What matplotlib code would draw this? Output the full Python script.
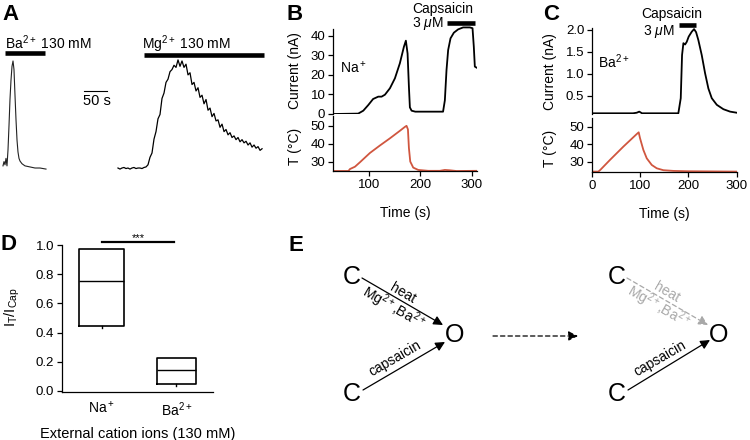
import numpy as np
import matplotlib
matplotlib.use('Agg')
import matplotlib.pyplot as plt

plt.rcParams['font.family'] = ['Liberation Sans', 'DejaVu Sans']
plt.rcParams['mathtext.fontset'] = 'custom'
plt.rcParams['mathtext.rm'] = 'Liberation Sans'
plt.rcParams['mathtext.it'] = 'Liberation Sans:italic'
plt.rcParams['mathtext.bf'] = 'Liberation Sans:bold'

# ---------------- data ----------------
# Panel A (time in s, current normalised to peak)
ba_t = [6.5, 8.7, 10.9, 13.0, 15.2, 17.4, 19.6, 21.7, 23.9, 26.1, 28.3, 30.4, 32.6,
        34.8, 37.0, 39.1, 41.3, 43.5, 47.8, 54.3, 65.2, 76.1, 87.0, 100.0]
ba_i = [0.02, 0.06, 0.03, 0.09, 0.02, 0.17, 0.40, 0.64, 0.82, 0.95, 1.0, 0.92, 0.68,
        0.45, 0.26, 0.15, 0.09, 0.065, 0.04, 0.02, 0.01, 0.0, 0.0, -0.01]
mg_i = [0.0, -0.01, 0.0, 0.005, -0.005, 0.0, -0.01, 0.0, 0.005, -0.005, 0.0, 0.0, -0.005, 0.005, 0.01,
        0.03, 0.10, 0.14, 0.27, 0.34, 0.46, 0.50, 0.65, 0.70, 0.80, 0.83, 0.90, 0.92, 0.96,
        0.94, 1.01, 0.95, 1.0, 0.94, 0.97, 0.87, 0.89, 0.78, 0.80, 0.72, 0.75, 0.66, 0.68,
        0.60, 0.64, 0.54, 0.56, 0.48, 0.51, 0.44, 0.45, 0.38, 0.41, 0.34, 0.36, 0.31, 0.33,
        0.285, 0.30, 0.265, 0.285, 0.245, 0.265, 0.235, 0.25, 0.215, 0.235, 0.195, 0.215, 0.185, 0.20,
        0.165, 0.18]
mg_t0, mg_dt = 256.5, 4.35
ba_bar = [10.9, 97.8]
mg_bar = [313.0, 574.0]

# Panel B (Na+)
b_i_t = [30, 79, 88.9, 98.6, 108, 118, 124.5, 131, 140.7, 150.4, 160, 167.9, 171.7, 175,
         177.6, 179.5, 182.8, 190, 244, 247.5, 250.7, 253.9, 258.5, 265, 273.3, 283, 296,
         301.3, 303.8, 305.8, 309]
b_i = [0, 0.2, 1.7, 4.6, 7.7, 8.9, 8.9, 9.9, 13.2, 18.3, 26, 34.5, 37.6, 31, 14, 3.4, 1.7,
       1.2, 1.2, 7, 22.5, 32.8, 38.8, 41.7, 43.4, 44.4, 44.4, 44, 34.5, 24.3, 23.8]
b_T_t = [30, 60, 63, 72.7, 82.4, 101.8, 121.3, 140.7, 160, 169.8, 173, 175.7, 177.6, 180.2,
         186, 195.7, 215, 237.8, 247.5, 257, 270, 310]
b_T = [24.7, 24.7, 25.8, 27.1, 29.6, 34.8, 39, 43, 47.2, 49.4, 50, 48, 37.6, 30, 26.6, 25.3,
       24.8, 24.8, 25.3, 25.1, 24.7, 24.8]
b_cap = [251, 306]

# Panel C (Ba2+)
c_i_t = [0, 85, 92.7, 98, 103.7, 179, 184, 186.7, 189.5, 193, 196.4, 200.5, 206.8, 211.6,
         215.8, 220.5, 227.5, 234.4, 241.3, 248.3, 258.7, 272.4, 286.3, 300]
c_i = [0.107, 0.107, 0.12, 0.145, 0.107, 0.107, 0.45, 1.43, 1.70, 1.67, 1.73, 1.85, 1.96,
       2.02, 1.95, 1.77, 1.43, 1.02, 0.67, 0.45, 0.30, 0.20, 0.145, 0.12]
c_T_t = [0, 13, 16.6, 37.3, 65, 92.7, 96.8, 99.6, 106.5, 113.5, 123.9, 134.2, 148, 168.8, 200, 300]
c_T = [24.3, 24.3, 25.1, 31, 38.6, 45.8, 46.8, 43.4, 36.7, 31.9, 28.1, 26.2, 25.1, 24.7, 24.5, 24.3]
c_cap = [180.5, 215.8]

# Panel D
d_labels = ['Na$^+$', 'Ba$^{2+}$']
d_q1 = [0.445, 0.048]
d_med = [0.753, 0.142]
d_q3 = [0.973, 0.224]
d_lo = [0.43, 0.035]
d_hi = [0.975, 0.226]

RED = '#d0563f'
W, H = 750, 440
fig = plt.figure(figsize=(7.5, 4.4), dpi=100)


def rect(l, t, r, b):
    return [l / W, 1 - b / H, (r - l) / W, (b - t) / H]


def style(ax, fs=9.5):
    ax.patch.set_visible(False)
    ax.spines['top'].set_visible(False)
    ax.spines['right'].set_visible(False)
    for s in ax.spines.values():
        s.set_linewidth(0.9)
    ax.tick_params(direction='out', length=3.5, width=0.9, labelsize=fs, pad=2)


# overlay for text / diagram (pixel coordinates), drawn on top
ov = fig.add_axes([0, 0, 1, 1])
ov.set_xlim(0, W)
ov.set_ylim(H, 0)
ov.axis('off')
ov.set_zorder(10)

# ---------------- Panel A ----------------
axA = fig.add_axes(rect(0, 40, 270, 180))
axA.set_xlim(0, 587)
axA.set_ylim(-0.112, 1.196)
axA.axis('off')
axA.plot(ba_t, ba_i, color='#222222', lw=0.8)
mg_t = mg_t0 + mg_dt * np.arange(len(mg_i))
axA.plot(mg_t, mg_i, color='k', lw=0.9)
axA.plot(ba_bar, [1.07, 1.07], color='k', lw=3.3, solid_capstyle='butt')
axA.plot(mg_bar, [1.06, 1.06], color='k', lw=3.3, solid_capstyle='butt')
axA.plot([182.6, 232.6], [0.72, 0.72], color='k', lw=0.8)
ov.text(5, 49, 'Ba$^{2+}$ 130 mM', fontsize=10, ha='left', va='baseline')
ov.text(142, 49, 'Mg$^{2+}$ 130 mM', fontsize=10, ha='left', va='baseline')
ov.text(97, 101, '50 s', fontsize=10.5, ha='center', va='center')

# ---------------- Panel B ----------------
axBi = fig.add_axes(rect(333, 26.25, 477, 114))
style(axBi)
axBi.plot(b_i_t, b_i, color='k', lw=1.3)
axBi.set_xlim(30, 310)
axBi.set_ylim(0, 45)
axBi.spines['bottom'].set_visible(False)
axBi.spines['left'].set_bounds(0, 43.5)
axBi.set_xticks([])
axBi.set_yticks([0, 10, 20, 30, 40])
axBi.set_ylabel('Current (nA)', fontsize=10)
axBi.yaxis.set_label_coords(-0.215, 0.49)
axBi.plot(b_cap, [46.7, 46.7], color='k', lw=3.3, solid_capstyle='butt', clip_on=False)

axBt = fig.add_axes(rect(333, 116, 477, 171))
style(axBt)
axBt.plot(b_T_t, b_T, color=RED, lw=1.3)
axBt.set_xlim(30, 310)
axBt.set_ylim(24.7, 55.5)
axBt.set_yticks([30, 40, 50])
axBt.set_xticks([100, 200, 300])
axBt.set_ylabel('T (°C)', fontsize=10)
axBt.yaxis.set_label_coords(-0.215, 0.44)
axBt.set_xlabel('Time (s)', fontsize=10, labelpad=11)

ov.text(443, 9, 'Capsaicin', fontsize=10, ha='center', va='center')
ov.text(444, 23, '3 $\\mu$M', fontsize=10, ha='right', va='center')
ov.text(340, 73, 'Na$^+$', fontsize=10, ha='left', va='baseline')

# ---------------- Panel C ----------------
axCi = fig.add_axes(rect(592, 28, 736.7, 114))
style(axCi)
axCi.plot(c_i_t, c_i, color='k', lw=1.3)
axCi.set_xlim(0, 300)
axCi.set_ylim(0.091, 2.045)
axCi.spines['bottom'].set_visible(False)
axCi.set_xticks([])
axCi.set_yticks([0.5, 1.0, 1.5, 2.0])
axCi.set_ylabel('Current (nA)', fontsize=10)
axCi.yaxis.set_label_coords(-0.242, 0.49)
axCi.plot(c_cap, [2.11, 2.11], color='k', lw=3.3, solid_capstyle='butt', clip_on=False)

axCt = fig.add_axes(rect(592, 118, 736.7, 172.3))
style(axCt)
axCt.plot(c_T_t, c_T, color=RED, lw=1.3)
axCt.set_xlim(0, 300)
axCt.set_ylim(23.9, 55)
axCt.set_yticks([30, 40, 50])
axCt.set_xticks([0, 100, 200, 300])
axCt.set_ylabel('T (°C)', fontsize=10)
axCt.yaxis.set_label_coords(-0.242, 0.44)
axCt.set_xlabel('Time (s)', fontsize=10, labelpad=11)

ov.text(672, 14, 'Capsaicin', fontsize=10, ha='center', va='center')
ov.text(675, 31, '3 $\\mu$M', fontsize=10, ha='right', va='center')
ov.text(598, 68, 'Ba$^{2+}$', fontsize=10, ha='left', va='baseline')

# ---------------- Panel D ----------------
axD = fig.add_axes(rect(62, 245, 213, 391.7))
style(axD)
stats = []
for i in range(2):
    stats.append(dict(med=d_med[i], q1=d_q1[i], q3=d_q3[i], whislo=d_lo[i],
                      whishi=d_hi[i], fliers=[], label=d_labels[i]))
axD.bxp(stats, positions=[1, 2], widths=[0.6, 0.52], showcaps=False, showfliers=False,
        boxprops=dict(color='k', lw=1.2), medianprops=dict(color='k', lw=1.0),
        whiskerprops=dict(color='k', lw=1.0))
axD.set_xlim(0.473, 2.487)
axD.set_ylim(-0.005, 1.0)
axD.set_yticks([0.0, 0.2, 0.4, 0.6, 0.8, 1.0])
axD.set_yticklabels(['0.0', '0.2', '0.4', '0.6', '0.8', '1.0'])
axD.tick_params(axis='x', length=0, labelsize=10, pad=6)
axD.set_ylabel('I$_\\mathrm{T}$/I$_\\mathrm{Cap}$', fontsize=10.5)
axD.yaxis.set_label_coords(-0.265, 0.577)
axD.set_xlabel('External cation ions (130 mM)', fontsize=10.5, labelpad=6)
axD.plot([1.007, 1.967], [1.02, 1.02], color='k', lw=1.6, clip_on=False)
ov.text(138, 238, '***', fontsize=8, ha='center', va='center')

# ---------------- Panel E ----------------
GREY = '#a8a8a8'


def arrow(p0, p1, color='k', ls='-'):
    ov.annotate('', xy=p1, xytext=p0,
                arrowprops=dict(arrowstyle='-|>', color=color, lw=0.9, linestyle=ls,
                                mutation_scale=14, shrinkA=0, shrinkB=0))


for (cx, ox) in [(352, 455), (617, 719)]:
    ov.text(cx, 277.5, 'C', fontsize=18, ha='center', va='center')
    ov.text(cx, 394, 'C', fontsize=18, ha='center', va='center')
    ov.text(ox, 335, 'O', fontsize=18, ha='center', va='center')

arrow((362, 278), (443, 325))
arrow((363, 390), (445, 342))
ov.text(403, 293, 'heat', fontsize=10, rotation=-30, ha='center', va='center', rotation_mode='anchor')
ov.text(393, 308, 'Mg$^{2+}$,Ba$^{2+}$', fontsize=10, rotation=-30, ha='center', va='center', rotation_mode='anchor')
ov.text(395, 358, 'capsaicin', fontsize=10, rotation=30, ha='center', va='center', rotation_mode='anchor')

arrow((493, 336), (578, 336), ls=(0, (3.5, 2.5)))

arrow((627, 278), (708, 325), color=GREY, ls=(0, (3.5, 2.5)))
arrow((628, 390), (710, 340))
ov.text(667, 292, 'heat', fontsize=10, color=GREY, rotation=-30, ha='center', va='center', rotation_mode='anchor')
ov.text(658, 307, 'Mg$^{2+}$,Ba$^{2+}$', fontsize=10, color=GREY, rotation=-30, ha='center', va='center', rotation_mode='anchor')
ov.text(660, 358, 'capsaicin', fontsize=10, rotation=30, ha='center', va='center', rotation_mode='anchor')

# panel labels
for lab, x, y in [('A', 2, 20), ('B', 287, 20), ('C', 543, 20), ('D', 0, 250), ('E', 288, 251)]:
    ov.text(x, y, lab, fontsize=16, fontweight='bold', ha='left', va='baseline')

fig.savefig('out.png', dpi=100)
